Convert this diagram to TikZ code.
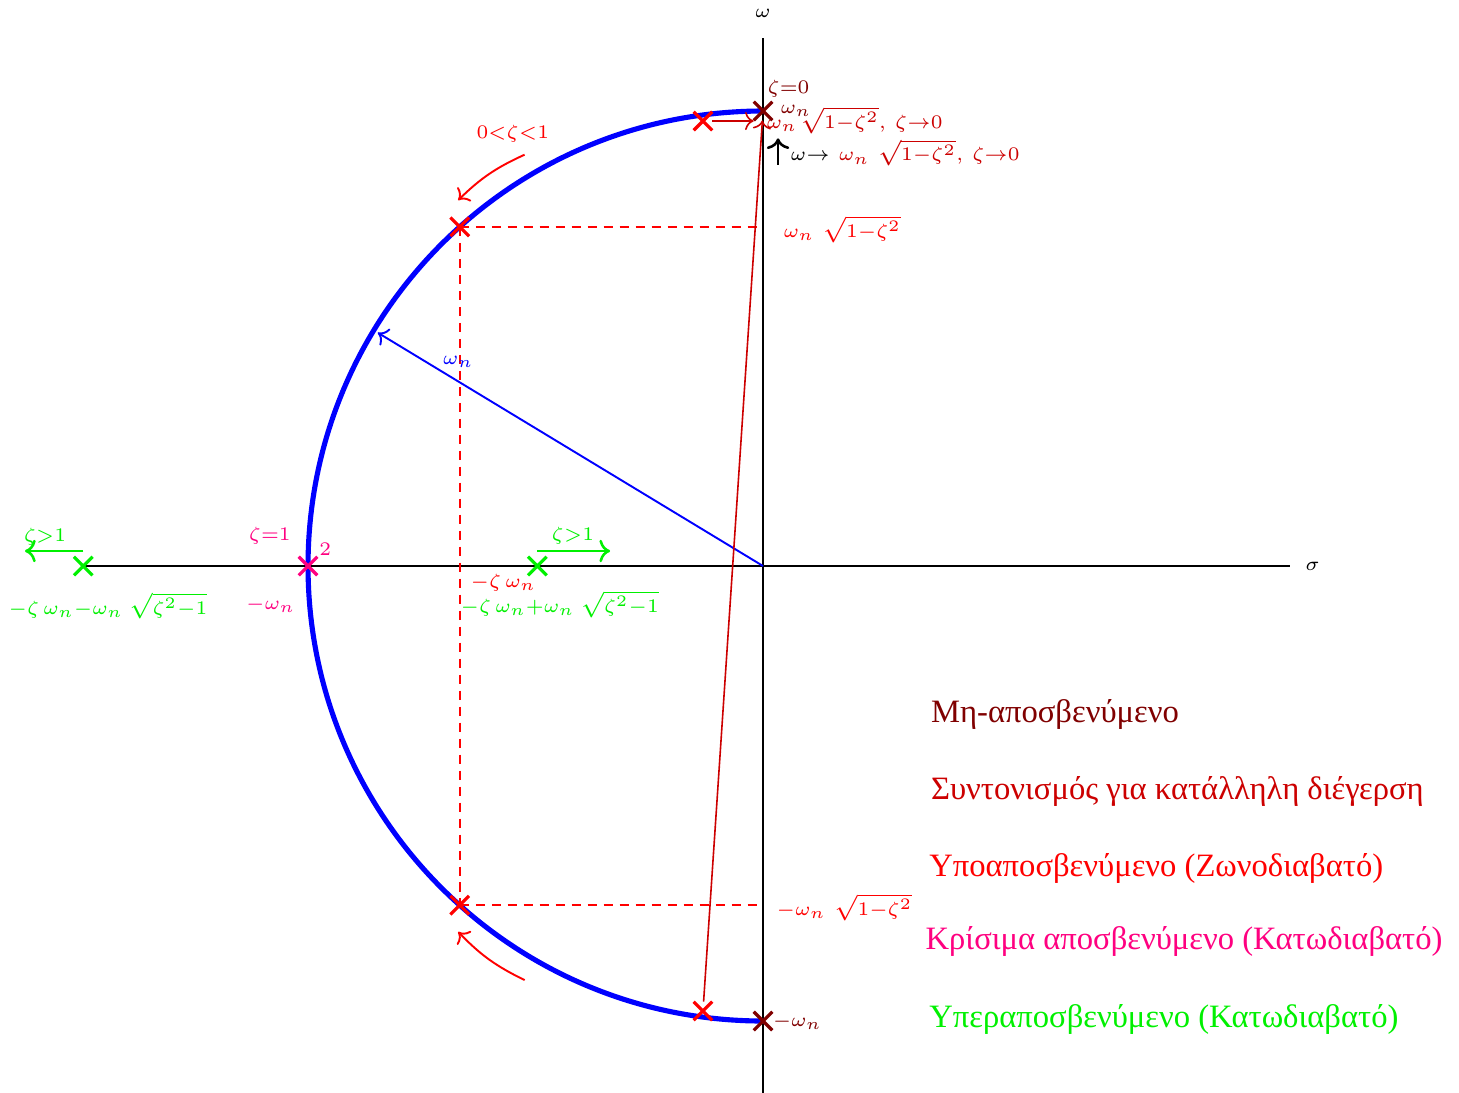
\documentclass[tikz,border=0pt]{standalone}
\usepackage{fontspec}
\newfontfamily\greekfont{Liberation Serif}
\usetikzlibrary{arrows.meta,shapes.misc}
\definecolor{nodamp}{HTML}{800000}
\definecolor{resred}{HTML}{CC0000}
\definecolor{underd}{HTML}{FF0000}
\definecolor{critd}{HTML}{FF0080}
\definecolor{overd}{HTML}{00F000}
\tikzset{
  pole/.style={cross out, draw=#1, line width=1pt, minimum size=1.7mm, inner sep=0pt},
  lbl/.style={inner sep=0pt, font=\footnotesize},
  axisline/.style={semithick, black},
  guide/.style={semithick, underd, dash pattern=on 3pt off 2pt},
  legend/.style={anchor=west, inner sep=0pt, font=\greekfont\fontsize{10.2}{12}\selectfont},
}
\begin{document}
\begin{tikzpicture}
    \useasboundingbox (-8.385,-5.791) rectangle (7.648,6.22);
    % axes
    \coordinate (O) at (0,0);
    \node[lbl] (sig) at (6.04,0) {$\scriptstyle\sigma$};
    \node[lbl] (om) at (0,6.07) {$\scriptstyle\omega$};
    \draw[axisline] (-7.47,0) -- (5.79,0);
    \draw[axisline] (0,5.8) -- (0,-5.8);
    % locus of the poles
    \draw[blue, ultra thick] (0,5) arc[start angle=90, end angle=270, radius=5];
    \node[pole=nodamp] (z0t) at (0,5) {};
    \node[pole=nodamp] (z0b) at (0,-5) {};
    \node[pole=underd] (zsmt) at (-0.66,4.89) {};
    \node[pole=underd] (zsmb) at (-0.66,-4.89) {};
    \node[pole=underd] (zut) at (131.8:5) {};
    \node[pole=underd] (zub) at (-131.8:5) {};
    \node[pole=critd] (zc) at (-5,0) {};
    \node[pole=overd] (zol) at (-7.47,0) {};
    \node[pole=overd] (zor) at (-2.48,0) {};
    % projections
    \draw[guide] (zut.center) -- (zut.center -| O);
    \draw[guide] (zub.center) -- (zub.center -| O);
    \draw[guide] (zut.center) -- (zub.center);
    % radius
    \coordinate (rad) at (148.8:4.95);
    \draw[blue, semithick, ->] (O) -- (rad);
    \node[lbl, text=blue] (wn) at (-3.35,2.24) {$\scriptstyle\omega_n$};
    % zeta -> 0
    \draw[resred, line width=0.5pt, ->] (zsmb) -- (z0t);
    \draw[resred, line width=0.5pt, ->] (zsmt) -- (zsmt.center -| z0t.west);
    \coordinate (bk0) at (0.165,4.41);
    \coordinate (bk1) at (0.165,4.70);
    \draw[thick, ->] (bk0) -- (bk1);
    \node[lbl, text=nodamp, anchor=west] (lz0) at (0.044,5.24) {$\scriptstyle\zeta=0$};
    \node[lbl, text=nodamp, anchor=west] (lwt) at (0.187,5.0) {$\scriptstyle\omega_n$};
    \node[lbl, text=resred, anchor=west] (llim) at (0.033,4.90) {$\scriptstyle\omega_n\,\sqrt{1-\zeta^2},\ \zeta\to0$};
    \node[lbl, anchor=west] (lom) at (0.297,4.54) {$\scriptstyle\omega\to$ \textcolor{resred}{$\scriptstyle\omega_n\ \sqrt{1-\zeta^2},\ \zeta\to0$}};
    \node[lbl, text=nodamp, anchor=west] (lwb) at (0.10,-5.01) {$\scriptstyle-\omega_n$};
    % underdamped
    \node[lbl, text=underd] (lud) at (-2.75,4.75) {$\scriptstyle0<\zeta<1$};
    \coordinate (ua0) at (-2.62,4.52);
    \coordinate (ua1) at (-3.35,4.02);
    \coordinate (la0) at (-2.62,-4.55);
    \coordinate (la1) at (-3.35,-4.02);
    \draw[underd, semithick, ->] (ua0) to[bend right=10] (ua1);
    \draw[underd, semithick, ->] (la0) to[bend left=10] (la1);
    \node[lbl, text=underd, anchor=west] (lwd) at (0.22,3.70) {$\scriptstyle\omega_n\ \sqrt{1-\zeta^2}$};
    \node[lbl, text=underd, anchor=west] (lwdm) at (0.143,-3.75) {$\scriptstyle-\omega_n\ \sqrt{1-\zeta^2}$};
    \node[lbl, text=underd, anchor=west] (lsig) at (-3.22,-0.18) {$\scriptstyle-\zeta\,\omega_n$};
    % critically damped
    \node[lbl, text=critd] (lz1) at (-5.42,0.33) {$\scriptstyle\zeta=1$};
    \node[lbl, text=critd] (ltwo) at (-4.81,0.18) {$\scriptstyle2$};
    \node[lbl, text=critd] (lwc) at (-5.41,-0.43) {$\scriptstyle-\omega_n$};
    % overdamped
    \draw[overd, thick, ->] ([yshift=1.65mm]zol.center) -- ++(-0.64,0);
    \draw[overd, thick, ->] ([yshift=1.65mm]zor.center) -- ++(0.8,0);
    \node[lbl, text=overd] (lgl) at (-7.89,0.32) {$\scriptstyle\zeta>1$};
    \node[lbl, text=overd] (lgr) at (-2.09,0.33) {$\scriptstyle\zeta>1$};
    \node[lbl, text=overd, anchor=west] (lol) at (-8.297,-0.44) {$\scriptstyle-\zeta\,\omega_n-\omega_n\;\sqrt{\zeta^2-1}$};
    \node[lbl, text=overd, anchor=west] (lor) at (-3.33,-0.42) {$\scriptstyle-\zeta\,\omega_n+\omega_n\;\sqrt{\zeta^2-1}$};
    % legend
    \node[legend, text=nodamp] (lg1) at (1.84,-1.63) {Μη-αποσβενύμενο};
    \node[legend, text=resred] (lg2) at (1.84,-2.48) {Συντονισμός για κατάλληλη διέγερση};
    \node[legend, text=underd] (lg3) at (1.82,-3.32) {Υποαποσβενύμενο (Ζωνοδιαβατό)};
    \node[legend, text=critd] (lg4) at (1.78,-4.13) {Κρίσιμα αποσβενύμενο (Κατωδιαβατό)};
    \node[legend, text=overd] (lg5) at (1.82,-4.98) {Υπεραποσβενύμενο (Κατωδιαβατό)};
\end{tikzpicture}
\end{document}
